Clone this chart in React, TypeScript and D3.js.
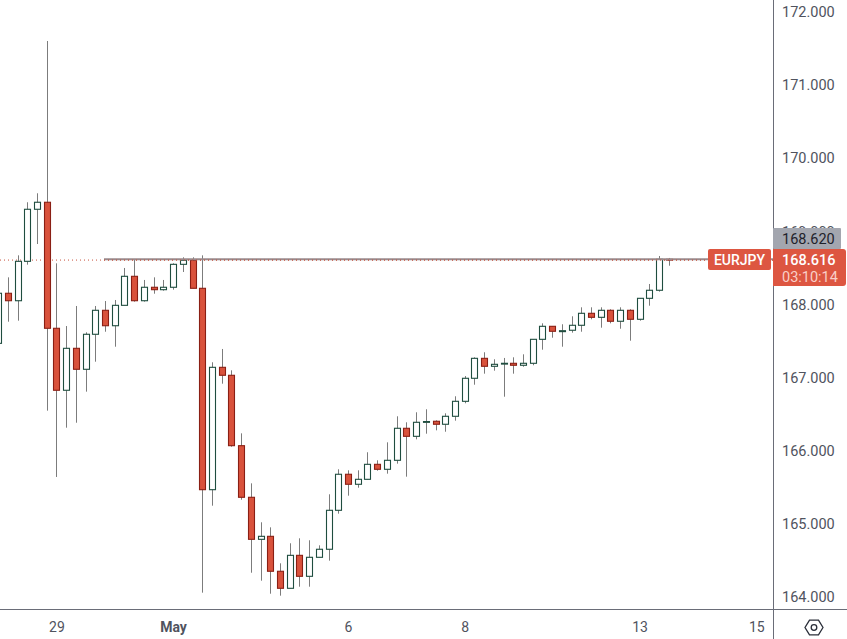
import React from "react";
import * as d3 from "d3";

const opens = [167.47,168.155,168.053,168.592,169.304,169.4,167.676,166.828,167.402,167.115,167.594,167.922,167.711,167.99,168.387,168.053,168.237,168.204,168.237,168.551,168.606,168.223,165.468,167.142,167.033,166.07,165.364,164.789,164.83,164.352,164.119,164.57,164.283,164.543,164.653,165.186,165.679,165.542,165.61,165.815,165.747,165.87,166.308,166.198,166.39,166.404,166.363,166.472,166.677,166.992,167.265,167.156,167.19,167.197,167.17,167.197,167.525,167.703,167.63,167.649,167.717,167.881,167.826,167.922,167.772,167.922,167.799,168.086,168.196,168.62];
const closes = [168.155,168.053,168.592,169.304,169.4,167.676,166.828,167.402,167.115,167.594,167.922,167.711,167.99,168.387,168.053,168.237,168.204,168.237,168.551,168.606,168.223,165.468,167.142,167.033,166.07,165.364,164.789,164.83,164.352,164.119,164.57,164.283,164.543,164.653,165.186,165.679,165.542,165.61,165.815,165.747,165.87,166.308,166.198,166.39,166.4,166.363,166.472,166.677,166.992,167.265,167.156,167.183,167.197,167.17,167.197,167.525,167.703,167.635,167.643,167.717,167.881,167.826,167.922,167.772,167.922,167.799,168.086,168.196,168.62,168.616];
const highs = [168.2,168.373,168.674,169.4,169.523,171.606,168.565,167.707,167.981,167.621,167.981,168.049,168.063,168.501,168.624,168.337,168.373,168.337,168.565,168.647,168.647,168.674,167.211,167.393,167.101,166.239,165.555,165.022,164.953,164.461,164.735,164.803,164.776,164.707,165.405,165.747,165.733,165.733,165.98,165.87,166.116,166.472,166.39,166.527,166.568,166.417,166.513,166.746,167.023,167.279,167.348,167.252,167.27,167.279,167.32,167.525,167.744,167.703,167.731,167.84,167.963,167.963,167.963,167.936,167.963,167.936,168.086,168.282,168.665,168.638];
const lows = [167.447,167.766,167.78,168.546,168.829,166.549,165.642,166.316,166.384,166.809,167.219,167.629,167.424,167.99,168.04,168.04,168.149,168.19,168.204,168.446,168.223,164.059,165.249,166.918,166.056,165.331,164.332,164.223,164.045,164.018,164.119,164.141,164.141,164.543,164.497,165.14,165.386,165.495,165.61,165.728,165.687,165.824,165.646,166.157,166.234,166.28,166.261,166.412,166.65,166.904,167.055,167.096,166.74,167.055,167.15,167.17,167.383,167.547,167.424,167.616,167.629,167.799,167.684,167.744,167.67,167.506,167.78,167.985,168.177,168.532];

const priceTicks = [172, 171, 170, 169, 168, 167, 166, 165, 164];
const timeTickLabels = ["29", "May", "6", "8", "13", "15"];
const timeTickIndex = [6, 18, 36, 48, 66, 78];
const refPrice = 168.62;
const lastPrice = 168.616;
const symbol = "EURJPY";
const countdown = "03:10:14";

const W = 847;
const H = 639;
const axisX = 773;
const axisY = 609;
const FONT = "Roboto, 'Liberation Sans', sans-serif";
const TEXT = "#50535e";
const RED = "#d9523c";
const RED_EDGE = "#8a1f14";
const GREEN_EDGE = "#1f4d3f";
const WICK = "#7c7c7c";

export default function App() {
  const x = d3.scaleLinear().domain([0, 69]).range([-1.4, 669.3]);
  const y = d3.scaleLinear().domain([164, 172]).range([597, 12.2]);
  const refY = y(refPrice);
  const lastY = y(lastPrice);
  const hexPath = d3.line<[number, number]>().curve(d3.curveLinearClosed)(
    d3.range(6).map((k) => {
      const a = (Math.PI / 3) * k;
      return [814 + 9 * Math.cos(a), 627.5 + 8.6 * Math.sin(a)] as [number, number];
    })
  );

  return (
    <svg width={W} height={H} viewBox={`0 0 ${W} ${H}`} style={{ position: "absolute", left: 0, top: 0, display: "block", background: "#fff" }}>
      <line x1={0} x2={axisX} y1={lastY + 0.5} y2={lastY + 0.5} stroke="#c9503c" strokeWidth={1} strokeDasharray="1 3" />
      <g>
        {opens.map((o, i) => {
          const c = closes[i];
          const up = c >= o;
          const cx = Math.floor(x(i)) + 0.5;
          const top = y(Math.max(o, c));
          const bottom = y(Math.min(o, c));
          return (
            <g key={i}>
              <line x1={cx} x2={cx} y1={y(highs[i])} y2={y(lows[i])} stroke={WICK} strokeWidth={1} />
              <rect x={cx - 3} y={top} width={6} height={Math.max(bottom - top, 0.8)} fill={up ? "#ffffff" : RED} stroke={up ? GREEN_EDGE : RED_EDGE} strokeWidth={1.1} />
            </g>
          );
        })}
      </g>
      <line x1={104} x2={axisX} y1={refY} y2={refY} stroke="#9a8a8c" strokeWidth={2} />
      <line x1={104} x2={axisX} y1={lastY + 0.5} y2={lastY + 0.5} stroke="#c9503c" strokeWidth={1} strokeDasharray="1 3" />

      <line x1={axisX + 0.5} x2={axisX + 0.5} y1={0} y2={H} stroke="#6a6d78" strokeWidth={1} />
      <line x1={0} x2={W} y1={axisY + 0.5} y2={axisY + 0.5} stroke="#6a6d78" strokeWidth={1} />

      {priceTicks.map((p) => (
        <text key={p} x={782} y={y(p)} dy="0.35em" fontFamily={FONT} fontSize={14.5} fill={TEXT}>{d3.format(".3f")(p)}</text>
      ))}
      {timeTickLabels.map((t, i) => (
        <text key={t} x={x(timeTickIndex[i])} y={627} dy="0.35em" textAnchor="middle" fontFamily={FONT} fontSize={14} fontWeight={t === "May" ? 700 : 400} fill={TEXT}>{t}</text>
      ))}

      <rect x={773} y={228} width={68} height={21} fill="#a3a6af" rx={1} />
      <text x={782} y={239} dy="0.35em" fontFamily={FONT} fontSize={14.5} fill="#1f222b">{d3.format(".3f")(refPrice)}</text>

      <path d="M773 249 H843 Q846 249 846 252 V283 Q846 286 843 286 H773 Z" fill="#dd5641" />
      <text x={782} y={259.5} dy="0.35em" fontFamily={FONT} fontSize={14.5} fontWeight={500} fill="#ffffff">{d3.format(".3f")(lastPrice)}</text>
      <text x={782} y={276.5} dy="0.35em" fontFamily={FONT} fontSize={14.5} fill="#f9cfc8">{countdown}</text>

      <rect x={708} y={249} width={63} height={21} rx={2} fill="#dd5641" />
      <text x={739.5} y={259.8} dy="0.35em" textAnchor="middle" fontFamily={FONT} fontSize={14} fontWeight={500} fill="#ffffff">{symbol}</text>

      <path d={hexPath ?? ""} fill="none" stroke="#2a2e39" strokeWidth={1.3} />
      <circle cx={814} cy={627.5} r={2.8} fill="none" stroke="#2a2e39" strokeWidth={1.3} />
    </svg>
  );
}
